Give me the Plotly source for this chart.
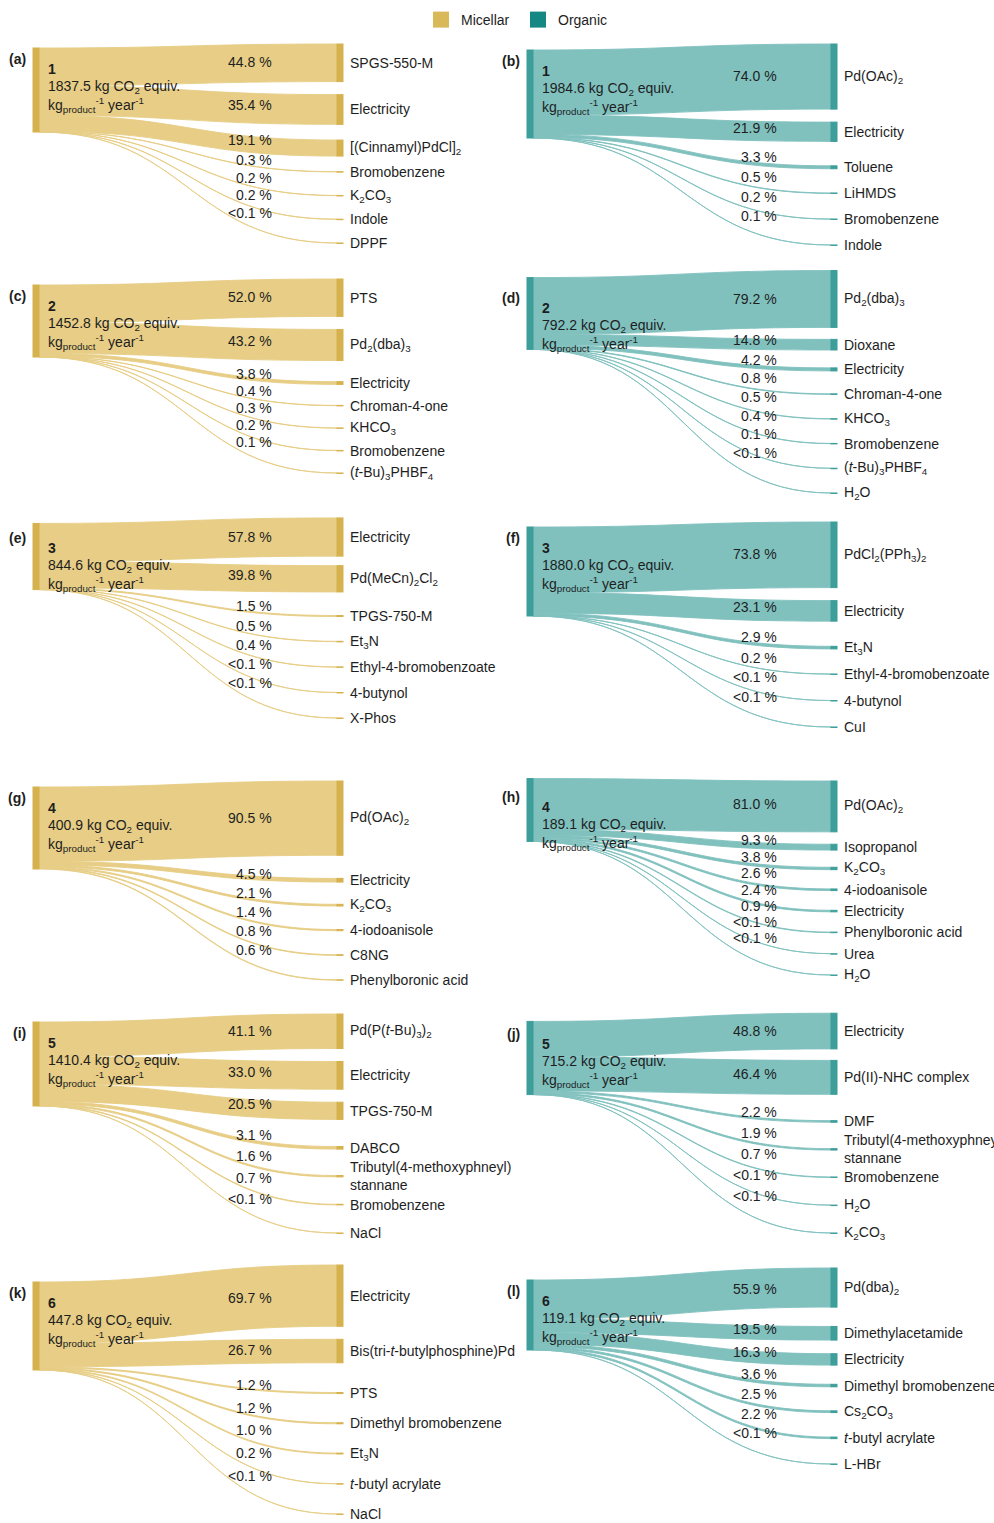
import plotly.graph_objects as go

# ---------------- data: share of the carbon footprint per input (%) ----------------
# a value of 0.05 stands for a contribution below 0.1 %
panel_ids = ["a", "b", "c", "d", "e", "f", "g", "h", "i", "j", "k", "l"]
systems = ["Micellar", "Organic"] * 6
routes = [1, 1, 2, 2, 3, 3, 4, 4, 5, 5, 6, 6]
footprints = [1837.5, 1984.6, 1452.8, 792.2, 844.6, 1880.0,
              400.9, 189.1, 1410.4, 715.2, 447.8, 119.1]

inputs_a = ["SPGS-550-M", "Electricity", "[(Cinnamyl)PdCl]<sub>2</sub>", "Bromobenzene",
            "K<sub>2</sub>CO<sub>3</sub>", "Indole", "DPPF"]
shares_a = [44.8, 35.4, 19.1, 0.3, 0.2, 0.2, 0.05]

inputs_b = ["Pd(OAc)<sub>2</sub>", "Electricity", "Toluene", "LiHMDS", "Bromobenzene", "Indole"]
shares_b = [74.0, 21.9, 3.3, 0.5, 0.2, 0.1]

inputs_c = ["PTS", "Pd<sub>2</sub>(dba)<sub>3</sub>", "Electricity", "Chroman-4-one",
            "KHCO<sub>3</sub>", "Bromobenzene", "(<i>t</i>-Bu)<sub>3</sub>PHBF<sub>4</sub>"]
shares_c = [52.0, 43.2, 3.8, 0.4, 0.3, 0.2, 0.1]

inputs_d = ["Pd<sub>2</sub>(dba)<sub>3</sub>", "Dioxane", "Electricity", "Chroman-4-one",
            "KHCO<sub>3</sub>", "Bromobenzene", "(<i>t</i>-Bu)<sub>3</sub>PHBF<sub>4</sub>",
            "H<sub>2</sub>O"]
shares_d = [79.2, 14.8, 4.2, 0.8, 0.5, 0.4, 0.1, 0.05]

inputs_e = ["Electricity", "Pd(MeCn)<sub>2</sub>Cl<sub>2</sub>", "TPGS-750-M",
            "Et<sub>3</sub>N", "Ethyl-4-bromobenzoate", "4-butynol", "X-Phos"]
shares_e = [57.8, 39.8, 1.5, 0.5, 0.4, 0.05, 0.05]

inputs_f = ["PdCl<sub>2</sub>(PPh<sub>3</sub>)<sub>2</sub>", "Electricity", "Et<sub>3</sub>N",
            "Ethyl-4-bromobenzoate", "4-butynol", "CuI"]
shares_f = [73.8, 23.1, 2.9, 0.2, 0.05, 0.05]

inputs_g = ["Pd(OAc)<sub>2</sub>", "Electricity", "K<sub>2</sub>CO<sub>3</sub>", "4-iodoanisole",
            "C8NG", "Phenylboronic acid"]
shares_g = [90.5, 4.5, 2.1, 1.4, 0.8, 0.6]

inputs_h = ["Pd(OAc)<sub>2</sub>", "Isopropanol", "K<sub>2</sub>CO<sub>3</sub>", "4-iodoanisole",
            "Electricity", "Phenylboronic acid", "Urea", "H<sub>2</sub>O"]
shares_h = [81.0, 9.3, 3.8, 2.6, 2.4, 0.9, 0.05, 0.05]

inputs_i = ["Pd(P(<i>t</i>-Bu)<sub>3</sub>)<sub>2</sub>", "Electricity", "TPGS-750-M", "DABCO",
            "Tributyl(4-methoxyphneyl)<br>stannane", "Bromobenzene", "NaCl"]
shares_i = [41.1, 33.0, 20.5, 3.1, 1.6, 0.7, 0.05]

inputs_j = ["Electricity", "Pd(II)-NHC complex", "DMF", "Tributyl(4-methoxyphneyl)<br>stannane",
            "Bromobenzene", "H<sub>2</sub>O", "K<sub>2</sub>CO<sub>3</sub>"]
shares_j = [48.8, 46.4, 2.2, 1.9, 0.7, 0.05, 0.05]

inputs_k = ["Electricity", "Bis(tri-<i>t</i>-butylphosphine)Pd", "PTS", "Dimethyl bromobenzene",
            "Et<sub>3</sub>N", "<i>t</i>-butyl acrylate", "NaCl"]
shares_k = [69.7, 26.7, 1.2, 1.2, 1.0, 0.2, 0.05]

inputs_l = ["Pd(dba)<sub>2</sub>", "Dimethylacetamide", "Electricity", "Dimethyl bromobenzene",
            "Cs<sub>2</sub>CO<sub>3</sub>", "<i>t</i>-butyl acrylate", "L-HBr"]
shares_l = [55.9, 19.5, 16.3, 3.6, 2.5, 2.2, 0.05]

panel_inputs = [inputs_a, inputs_b, inputs_c, inputs_d, inputs_e, inputs_f,
                inputs_g, inputs_h, inputs_i, inputs_j, inputs_k, inputs_l]
panel_shares = [shares_a, shares_b, shares_c, shares_d, shares_e, shares_f,
                shares_g, shares_h, shares_i, shares_j, shares_k, shares_l]

# ---------------- page geometry (pixels) ----------------
W, H = 994, 1523
COL_X = [(33, 343), (527, 837)]          # horizontal extent of each column of diagrams
PCT_RIGHT = [274, 779]                   # right edge of the percentage labels
NODE_W = 6
HEAD_GAP = 13                            # gap between the large (>= 20 %) inputs
MAJOR = 20.0
# top of first input, centre of last input, height of the total bar, top of the total bar
BOX = [(44, 243, 84, 48), (44, 245, 88, 50),
       (279, 473, 72, 285), (278, 493, 53, 287),
       (520, 718, 59, 527), (522, 727, 89, 527),
       (781, 980, 82, 787), (787, 975, 48, 786),
       (1014, 1233, 84, 1022), (1014, 1233, 70, 1023),
       (1265, 1514, 88, 1282), (1268, 1464, 70, 1280)]

COLORS = {
    "Micellar": dict(node="#D6B24F", link="#E7CD85", legend="#D9B858"),
    "Organic": dict(node="#3D9E9A", link="#80C1BE", legend="#168884"),
}
FONT = "Arial, 'Liberation Sans', sans-serif"
TXT = "#1e1e1e"


def px(x):
    return x / W


def py(y):
    return 1 - y / H


def pct_text(v):
    return "<0.1 %" if v < 0.1 else f"{v:.1f} %"


fig = go.Figure()
annotations = []

for k, pid in enumerate(panel_ids):
    names = panel_inputs[k]
    vals = panel_shares[k]
    sysname = systems[k]
    col = k % 2
    left, right = COL_X[col]
    top, last, src_h, src_top = BOX[k]
    n = len(vals)
    total = sum(vals)
    ky = src_h / total
    heights = [v * ky for v in vals]

    # vertical placement of the inputs: large ones stacked, the rest spread evenly below
    centers = []
    y = top
    i = 0
    while i < n and vals[i] >= MAJOR:
        centers.append(y + heights[i] / 2)
        y += heights[i] + HEAD_GAP
        i += 1
    head_bottom = y - HEAD_GAP
    rest = n - i
    step = (last - head_bottom) / rest
    for j in range(rest):
        centers.append(head_bottom + step * (j + 1))

    bottom = last + max(heights[-1] / 2, 0.5)
    dom_h = bottom - top
    dom_w = right - left
    pad = (dom_h - src_h) / (n - 1)

    node_x = [NODE_W / 2 / dom_w] + [1 - NODE_W / 2 / dom_w] * n
    node_y = [(src_top + src_h / 2 - top) / dom_h] + [(c - top) / dom_h for c in centers]
    c = COLORS[sysname]

    fig.add_trace(go.Sankey(
        domain=dict(x=[px(left), px(right)], y=[py(bottom), py(top)]),
        arrangement="fixed",
        hoverinfo="skip",
        textfont=dict(size=1, color="rgba(0,0,0,0)"),
        node=dict(
            label=[""] * (n + 1),
            x=node_x, y=node_y,
            pad=pad, thickness=NODE_W,
            color=c["node"],
            line=dict(color=c["node"], width=1),
        ),
        link=dict(
            source=[0] * n,
            target=list(range(1, n + 1)),
            value=vals,
            color=c["link"],
            line=dict(color=c["link"], width=0.9),
        ),
    ))

    # percentage labels along each flow
    cum = src_top
    for idx in sorted(range(n), key=lambda q: centers[q]):
        w = heights[idx]
        y0 = cum + w / 2
        cum += w
        ylab = y0 + 0.75 * (centers[idx] - y0) - 2
        annotations.append(dict(
            x=px(PCT_RIGHT[col]), y=py(ylab), xref="paper", yref="paper",
            xanchor="right", yanchor="middle", showarrow=False,
            text=pct_text(vals[idx]), font=dict(size=14, color=TXT, family=FONT)))

    # input names
    for idx in range(n):
        annotations.append(dict(
            x=px(right + 5), y=py(centers[idx]), xref="paper", yref="paper",
            xanchor="left", yanchor="middle", showarrow=False, align="left",
            text=names[idx], font=dict(size=14, color=TXT, family=FONT)))

    # panel letter and total footprint
    annotations.append(dict(
        x=px(left - 5), y=py(src_top + 11), xref="paper", yref="paper",
        xanchor="right", yanchor="middle", showarrow=False,
        text=f"<b>({pid})</b>", font=dict(size=14, color=TXT, family=FONT)))
    src_lines = [f"<b>{routes[k]}</b>",
                 f"{footprints[k]:.1f} kg CO<sub>2</sub> equiv.",
                 "kg<sub>product</sub><sup>-1</sup> year<sup>-1</sup>"]
    for li, line in enumerate(src_lines):
        annotations.append(dict(
            x=px(left + 13), y=py(src_top + 21 + 18 * li), xref="paper", yref="paper",
            xanchor="left", yanchor="middle", showarrow=False, align="left",
            text=line, font=dict(size=14, color=TXT, family=FONT)))

# legend entries
for sysname in ["Micellar", "Organic"]:
    fig.add_trace(go.Scatter(
        x=[None], y=[None], mode="markers", name=sysname,
        marker=dict(symbol="square", size=16, color=COLORS[sysname]["legend"]),
        showlegend=True, hoverinfo="skip"))

fig.update_layout(
    width=W, height=H,
    margin=dict(l=0, r=0, t=0, b=0),
    paper_bgcolor="white", plot_bgcolor="white",
    font=dict(family=FONT, size=14, color=TXT),
    xaxis=dict(visible=False), yaxis=dict(visible=False),
    legend=dict(orientation="h", x=px(421), xanchor="left", y=py(20), yanchor="middle",
                font=dict(size=14, color=TXT, family=FONT), itemwidth=30,
                entrywidth=52, entrywidthmode="pixels",
                bgcolor="rgba(0,0,0,0)"),
    annotations=annotations,
)

fig.write_html("out.html", config={"displayModeBar": False})
